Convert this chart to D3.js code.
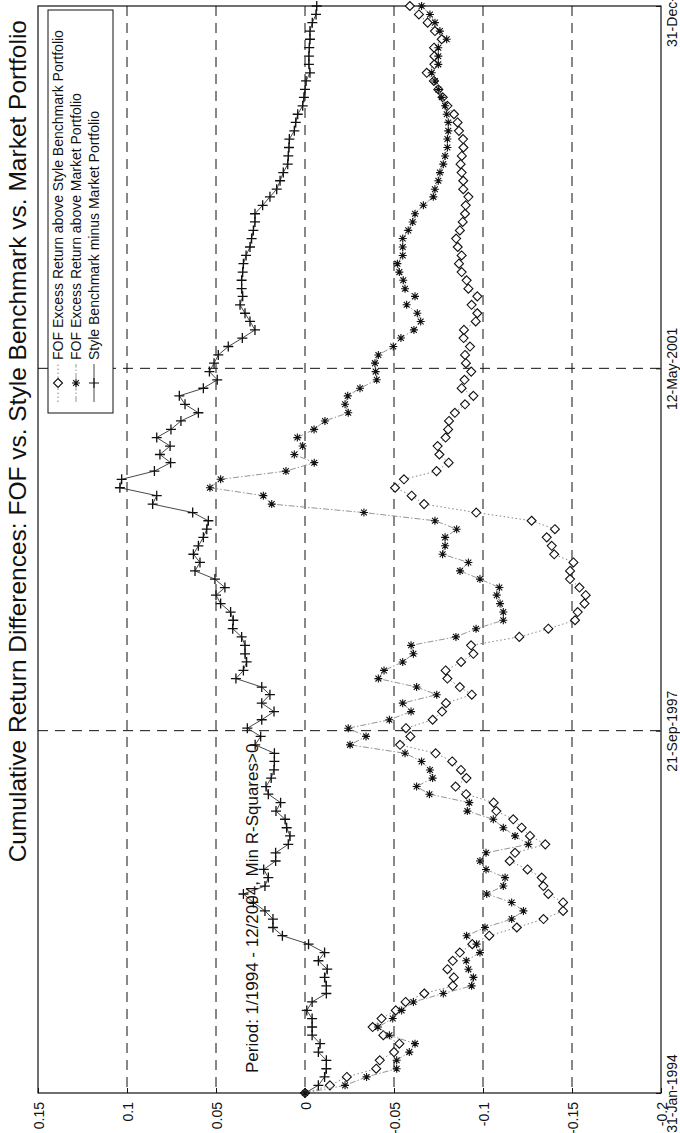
<!DOCTYPE html>
<html>
<head>
<meta charset="utf-8">
<script src="https://cdn.jsdelivr.net/npm/d3@7"></script>
<style>
  body { margin: 0; background: #fff; }
  svg { display: block; font-family: "Liberation Sans", Arial, sans-serif; }
</style>
</head>
<body>
<svg id="chart" width="680" height="1133"></svg>
<script>
// monthly values, Jan 1994 .. Dec 2004 (132 months)
const fofVsStyle = [0, -0.014, -0.0235, -0.04, -0.042, -0.05, -0.053, -0.044, -0.038, -0.043,
  -0.051, -0.0565, -0.067, -0.083, -0.0836, -0.08, -0.083, -0.087, -0.094, -0.1035,
  -0.119, -0.134, -0.145, -0.145, -0.1367, -0.1339, -0.133, -0.125, -0.115, -0.118,
  -0.135, -0.1264, -0.1217, -0.117, -0.1075, -0.106, -0.0905, -0.0846, -0.0907, -0.0876,
  -0.0827, -0.0734, -0.0534, -0.0592, -0.0567, -0.0717, -0.077, -0.0792, -0.0937, -0.087,
  -0.08, -0.079, -0.0877, -0.0946, -0.0933, -0.1204, -0.1367, -0.1517, -0.1532, -0.157,
  -0.1577, -0.1542, -0.1489, -0.1489, -0.1508, -0.14, -0.1386, -0.1358, -0.1404, -0.1273,
  -0.0962, -0.0669, -0.0599, -0.0506, -0.0556, -0.0739, -0.0807, -0.0755, -0.0745, -0.079,
  -0.0804, -0.0809, -0.0842, -0.0899, -0.0946, -0.088, -0.0896, -0.0934, -0.0904, -0.0899,
  -0.0927, -0.0891, -0.0893, -0.0959, -0.0968, -0.0936, -0.0968, -0.0918, -0.0908, -0.088,
  -0.0865, -0.088, -0.0858, -0.0849, -0.087, -0.0886, -0.0899, -0.0903, -0.0918, -0.0889,
  -0.0889, -0.088, -0.0874, -0.0881, -0.089, -0.0888, -0.0865, -0.0857, -0.0837, -0.08,
  -0.0774, -0.0749, -0.0724, -0.0684, -0.0727, -0.0727, -0.0725, -0.0768, -0.073, -0.0689,
  -0.064, -0.0589]

const fofVsMarket = [0, -0.0225, -0.0346, -0.0515, -0.0515, -0.0586, -0.0618, -0.0474, -0.041, -0.0493,
  -0.0543, -0.0609, -0.0777, -0.0936, -0.0946, -0.0918, -0.0906, -0.0983, -0.0964, -0.0908,
  -0.1011, -0.1161, -0.1227, -0.1161, -0.1021, -0.1114, -0.1124, -0.1017, -0.0983, -0.1017,
  -0.1255, -0.118, -0.1114, -0.1058, -0.0912, -0.0923, -0.0699, -0.0627, -0.0717, -0.0702,
  -0.0655, -0.0562, -0.0253, -0.0343, -0.0243, -0.0474, -0.0596, -0.0549, -0.074, -0.0627,
  -0.0412, -0.0444, -0.0549, -0.0609, -0.0596, -0.0848, -0.0961, -0.1114, -0.1114, -0.1096,
  -0.1077, -0.1092, -0.0983, -0.0871, -0.0918, -0.0773, -0.0787, -0.0787, -0.0852, -0.073,
  -0.0331, 0.0187, 0.0234, 0.0534, 0.0474, 0.0107, -0.0052, 0.006, 0.0013, 0.0043,
  -0.0051, -0.0112, -0.0243, -0.0225, -0.024, -0.0309, -0.0403, -0.0397, -0.0393, -0.0412,
  -0.0496, -0.0539, -0.0612, -0.065, -0.0631, -0.0571, -0.0618, -0.0562, -0.0552, -0.053,
  -0.0519, -0.0549, -0.0549, -0.0549, -0.058, -0.0605, -0.0618, -0.0665, -0.0721, -0.073,
  -0.0749, -0.0758, -0.0777, -0.0787, -0.08, -0.08, -0.0805, -0.0805, -0.0796, -0.0787,
  -0.0768, -0.0749, -0.073, -0.0712, -0.0749, -0.0749, -0.0749, -0.0796, -0.0758, -0.073,
  -0.0702, -0.0655]

const styleVsMarket = [0, -0.0075, -0.011, -0.012, -0.012, -0.0075, -0.0085, -0.004, -0.004, -0.004,
  -0.001, -0.004, -0.012, -0.012, -0.011, -0.0125, -0.0075, -0.011, -0.002, 0.0127,
  0.018, 0.018, 0.0225, 0.029, 0.0346, 0.0225, 0.0206, 0.0232, 0.0165, 0.0165,
  0.0094, 0.0084, 0.0103, 0.0112, 0.0163, 0.0137, 0.0206, 0.0219, 0.019, 0.0174,
  0.0172, 0.0172, 0.028, 0.0249, 0.0324, 0.0243, 0.0174, 0.0243, 0.0197, 0.0243,
  0.0388, 0.0346, 0.0328, 0.0337, 0.0337, 0.0356, 0.0406, 0.0403, 0.0418, 0.0474,
  0.05, 0.045, 0.0506, 0.0618, 0.059, 0.0627, 0.0599, 0.0571, 0.0552, 0.0543,
  0.0631, 0.0856, 0.0833, 0.104, 0.103, 0.0846, 0.0755, 0.0815, 0.0758, 0.0833,
  0.0753, 0.0697, 0.0599, 0.0674, 0.0706, 0.0571, 0.0493, 0.0537, 0.0511, 0.0487,
  0.0431, 0.0352, 0.0281, 0.0309, 0.0337, 0.0365, 0.035, 0.0356, 0.0356, 0.035,
  0.0346, 0.0331, 0.0309, 0.03, 0.029, 0.0281, 0.0281, 0.0238, 0.0197, 0.0159,
  0.014, 0.0122, 0.0097, 0.0094, 0.009, 0.0088, 0.006, 0.0052, 0.0041, 0.0013,
  0.0006, 0, -0.0006, -0.0028, -0.0022, -0.0022, -0.0024, -0.0028, -0.0028, -0.0041,
  -0.0062, -0.0066]

const seriesNames = [
  'FOF Excess Return above Style Benchmark Portfolio',
  'FOF Excess Return above Market Portfolio',
  'Style Benchmark minus Market Portfolio'
]
const valueTicks = [0.15, 0.1, 0.05, 0, -0.05, -0.1, -0.15, -0.2]
const valueTickLabels = ['0.15', '0.1', '0.05', '0', '-0.05', '-0.1', '-0.15', '-0.2']
const dateTicks = [new Date(1994, 0, 31), new Date(1997, 8, 21), new Date(2001, 4, 12), new Date(2004, 11, 31)]
const dateTickLabels = ['31-Jan-1994', '21-Sep-1997', '12-May-2001', '31-Dec-2004']
const titleText = 'Cumulative Return Differences: FOF vs. Style Benchmark vs. Market Portfolio'
const noteText = 'Period: 1/1994 - 12/2004, Min R-Squares>0'

// month-end dates for each observation
const months = fofVsStyle.map((_, i) => new Date(1994, i + 1, 0))

const svg = d3.select('#chart')

// the figure is a landscape matlab plot turned 90 deg ccw:
// time runs bottom -> top, values run left(high) -> right(low)
const plot = {left: 38, right: 661, top: 6, bottom: 1093}

const x = d3.scaleLinear().domain([0.15, -0.2]).range([plot.left, plot.right])
const y = d3.scaleTime().domain([dateTicks[0], dateTicks[3]]).range([plot.bottom, plot.top])

// grid
const grid = svg.append('g').attr('stroke', '#111').attr('stroke-width', 1).attr('stroke-dasharray', '10,7')
grid.selectAll('line.v')
  .data(valueTicks.slice(1, -1))
  .enter().append('line')
    .attr('x1', d => x(d)).attr('x2', d => x(d))
    .attr('y1', plot.top).attr('y2', plot.bottom)
grid.selectAll('line.h')
  .data(dateTicks.slice(1, -1))
  .enter().append('line')
    .attr('y1', d => y(d)).attr('y2', d => y(d))
    .attr('x1', plot.left).attr('x2', plot.right)

// value axis (bottom)
const valueAxis = svg.append('g')
    .attr('transform', `translate(0,${plot.bottom})`)
    .call(d3.axisBottom(x).tickValues(valueTicks)
      .tickFormat((d, i) => valueTickLabels[i]).tickSizeInner(-5).tickSizeOuter(0))
valueAxis.select('.domain').remove()
valueAxis.selectAll('line').attr('stroke', '#111')
valueAxis.selectAll('text')
    .attr('x', null).attr('y', null).attr('dy', null)
    .attr('transform', 'translate(5,9) rotate(-90)')
    .attr('text-anchor', 'end')
    .attr('font-size', 14).attr('fill', '#111')

// date axis (right)
const dateAxis = svg.append('g')
    .attr('transform', `translate(${plot.right},0)`)
    .call(d3.axisRight(y).tickValues(dateTicks)
      .tickFormat((d, i) => dateTickLabels[i]).tickSizeInner(-5).tickSizeOuter(0))
dateAxis.select('.domain').remove()
dateAxis.selectAll('line').attr('stroke', '#111')
dateAxis.selectAll('text')
    .attr('x', null).attr('y', null).attr('dy', null)
    .attr('transform', 'translate(16,0) rotate(-90)')
    .attr('text-anchor', 'middle')
    .attr('font-size', 14).attr('fill', '#111')

// plot frame
svg.append('rect')
    .attr('x', plot.left).attr('y', plot.top)
    .attr('width', plot.right - plot.left).attr('height', plot.bottom - plot.top)
    .attr('fill', 'none').attr('stroke', '#111').attr('stroke-width', 1.2)

// marker shapes
const markers = {
  diamond: 'M0,-4.5L4.5,0L0,4.5L-4.5,0Z',
  star: 'M-4,0H4M0,-4V4M-2.9,-2.9L2.9,2.9M-2.9,2.9L2.9,-2.9',
  plus: 'M-5,0H5M0,-5V5'
}

const series = [
  {name: seriesNames[0], values: fofVsStyle, marker: 'diamond', dash: '1.5,2.5', lineColor: '#777'},
  {name: seriesNames[1], values: fofVsMarket, marker: 'star', dash: '6,2,1.5,2', lineColor: '#888'},
  {name: seriesNames[2], values: styleVsMarket, marker: 'plus', dash: null, lineColor: '#333'}
]

const line = d3.line()
    .x(d => x(d.v))
    .y(d => y(d.date))

series.forEach(s => {
  const pts = s.values.map((v, i) => ({v, date: months[i]}))
  svg.append('path')
      .datum(pts)
      .attr('d', line)
      .attr('fill', 'none')
      .attr('stroke', s.lineColor)
      .attr('stroke-width', 0.9)
      .attr('stroke-dasharray', s.dash)

  svg.append('g').selectAll('path')
    .data(pts)
    .enter().append('path')
      .attr('transform', d => `translate(${x(d.v)},${y(d.date)})`)
      .attr('d', markers[s.marker])
      .attr('fill', s.marker === 'diamond' ? '#fff' : 'none')
      .attr('stroke', '#111')
      .attr('stroke-width', s.marker === 'plus' ? 1.3 : 1.1)
})

// legend (turned with the figure)
const legend = svg.append('g')
legend.append('rect')
    .attr('x', 48).attr('y', 10).attr('width', 65).attr('height', 403)
    .attr('fill', '#fff').attr('stroke', '#111')

series.forEach((s, i) => {
  const cx = 58 + i * 18
  legend.append('line')
      .attr('x1', cx).attr('x2', cx).attr('y1', 402).attr('y2', 364)
      .attr('stroke', s.lineColor).attr('stroke-width', 0.9)
      .attr('stroke-dasharray', s.dash)
  legend.append('path')
      .attr('transform', `translate(${cx},383)`)
      .attr('d', markers[s.marker])
      .attr('fill', s.marker === 'diamond' ? '#fff' : 'none')
      .attr('stroke', '#111').attr('stroke-width', 1.1)
  legend.append('text')
      .attr('transform', `translate(${cx + 5},360) rotate(-90)`)
      .attr('font-size', 14).attr('fill', '#111')
      .text(s.name)
})

// annotation
svg.append('text')
    .attr('transform', 'translate(258,1073) rotate(-90)')
    .attr('font-size', 17).attr('fill', '#111')
    .text(noteText)

// title
svg.append('text')
    .attr('transform', 'translate(26,20) rotate(-90)')
    .attr('text-anchor', 'end')
    .attr('font-size', 24.5).attr('fill', '#111')
    .text(titleText)
</script>
</body>
</html>
